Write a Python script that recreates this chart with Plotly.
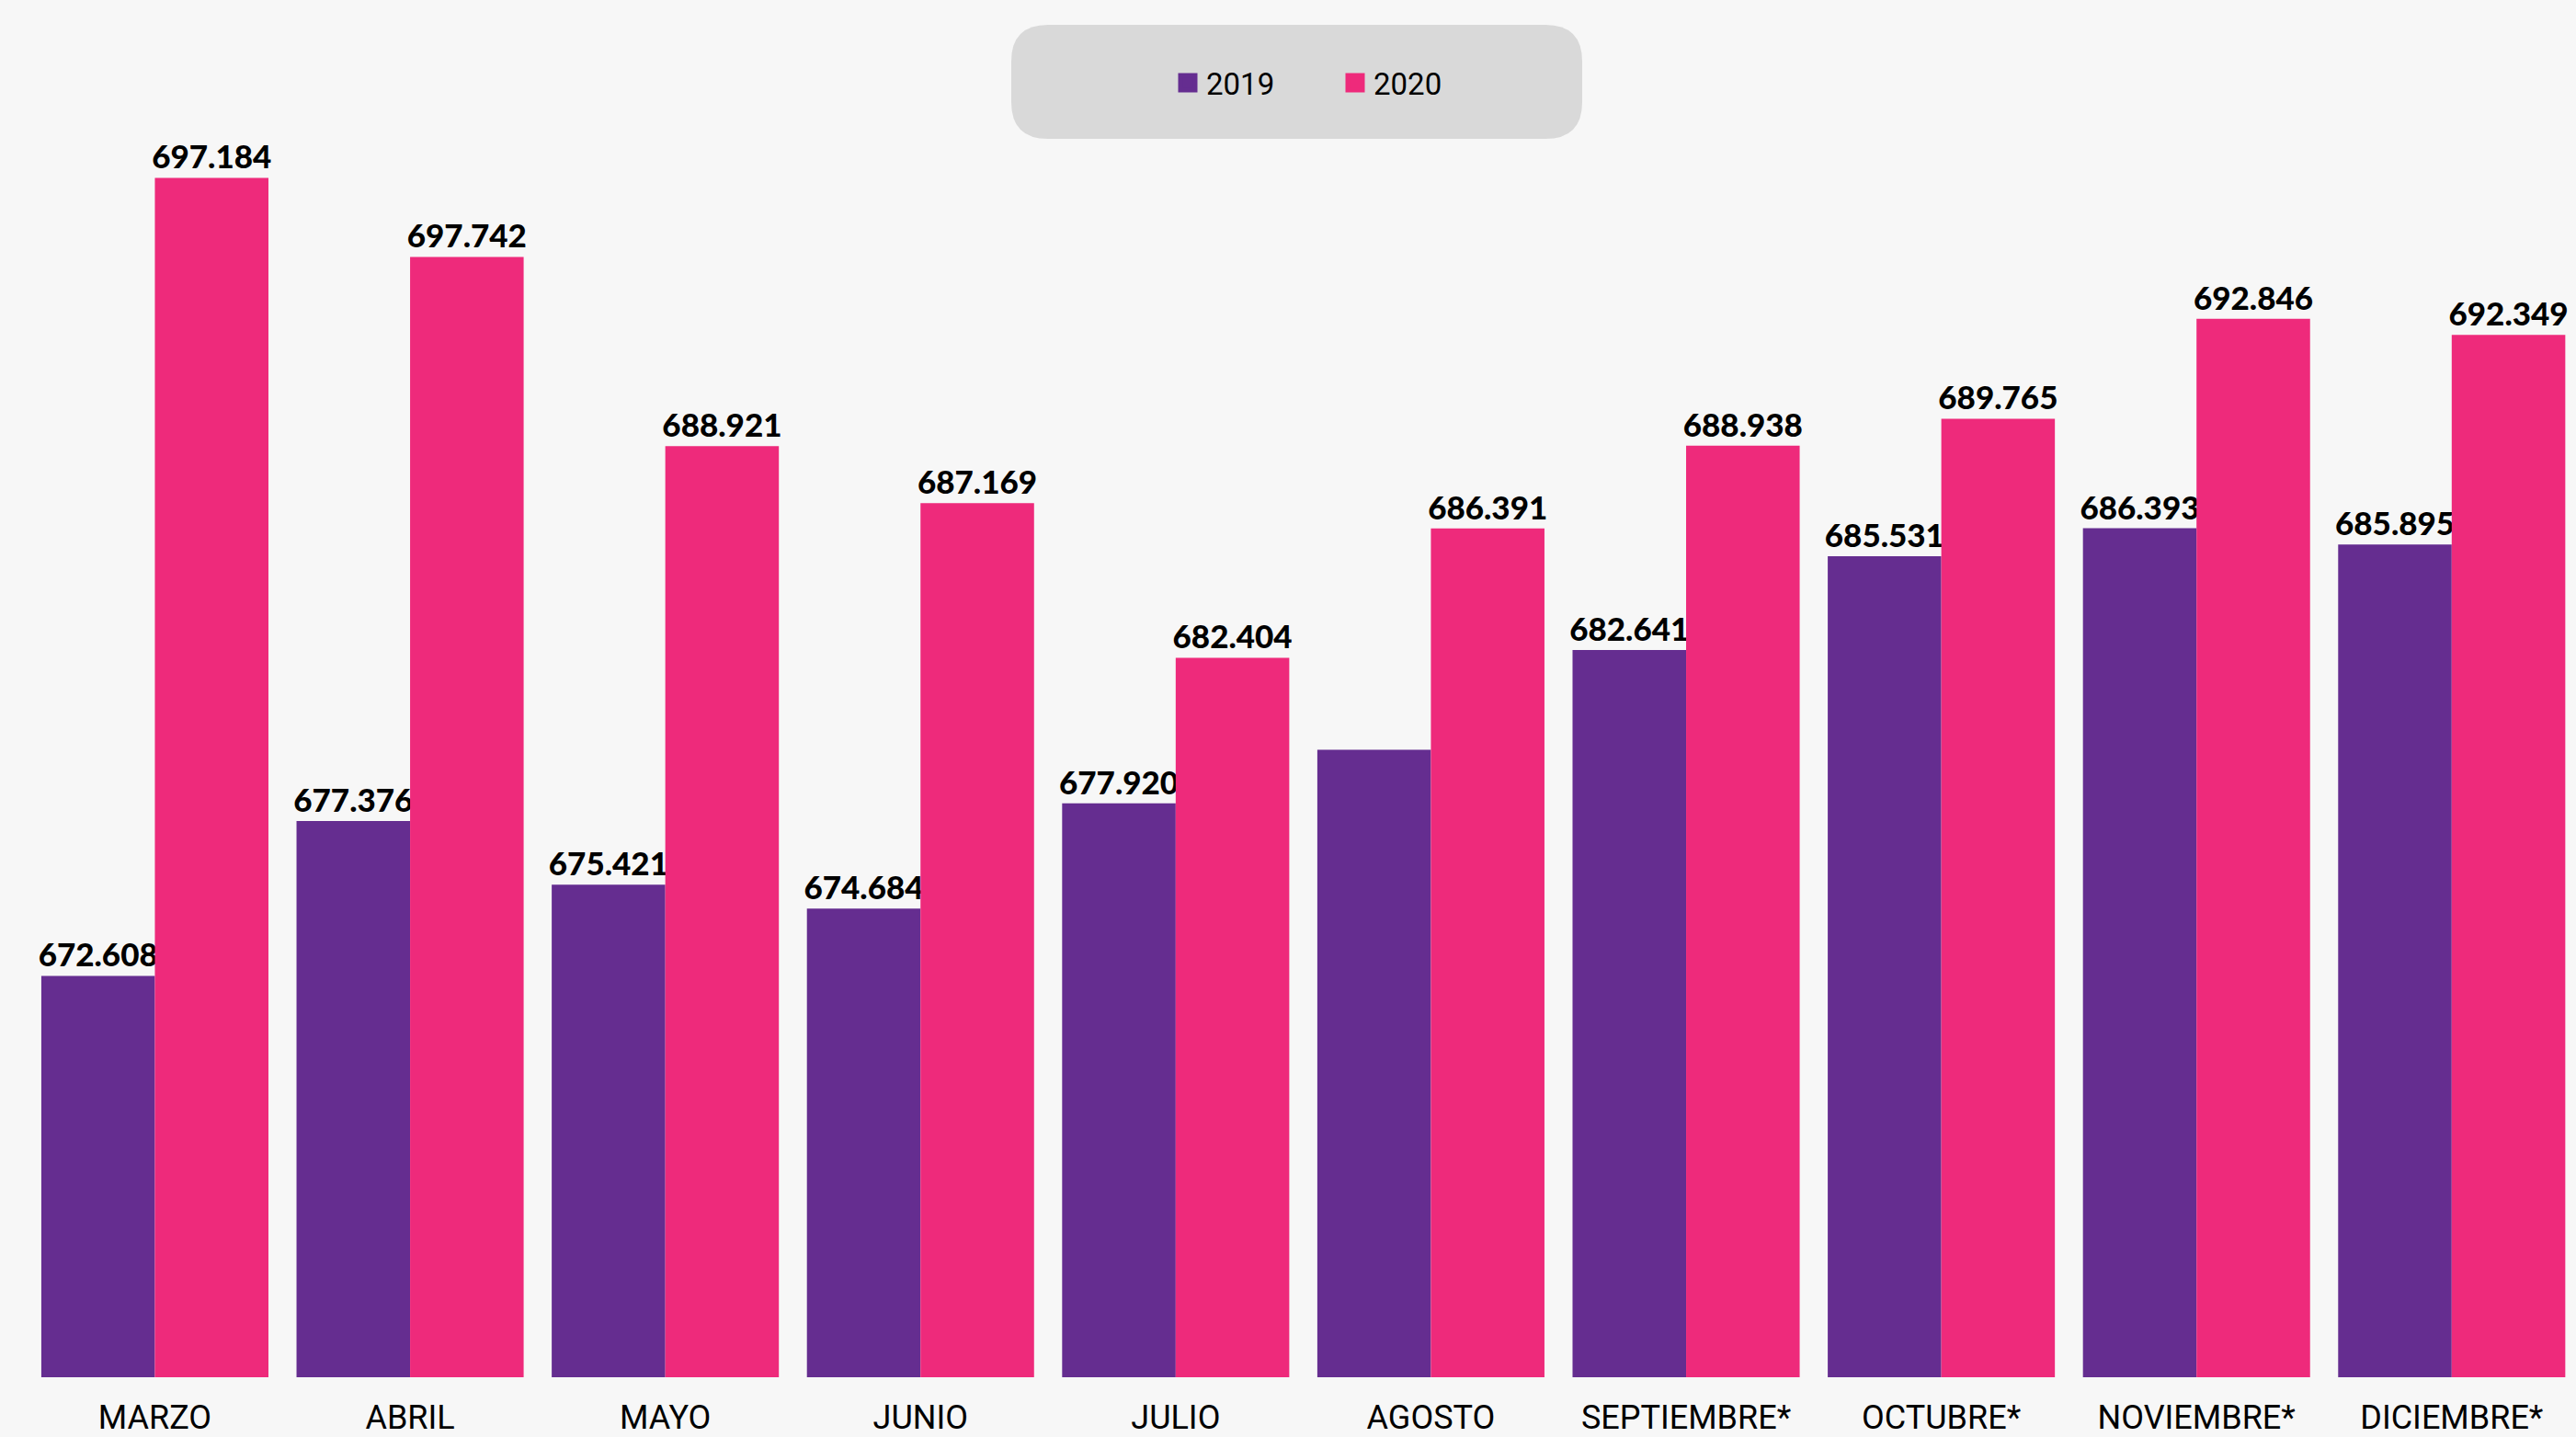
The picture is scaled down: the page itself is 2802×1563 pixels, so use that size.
import plotly.graph_objects as go

# ---- data ----
months = ["MARZO", "ABRIL", "MAYO", "JUNIO", "JULIO", "AGOSTO",
          "SEPTIEMBRE*", "OCTUBRE*", "NOVIEMBRE*", "DICIEMBRE*"]
values_2019 = [672.608, 677.376, 675.421, 674.684, 677.920, 679.57,
               682.641, 685.531, 686.393, 685.895]
values_2020 = [697.184, 694.75, 688.921, 687.169, 682.404, 686.391,
               688.938, 689.765, 692.846, 692.349]
labels_2019 = ["672.608", "677.376", "675.421", "674.684", "677.920", "",
               "682.641", "685.531", "686.393", "685.895"]
labels_2020 = ["697.184", "697.742", "688.921", "687.169", "682.404", "686.391",
               "688.938", "689.765", "692.846", "692.349"]
series_names = ["2019", "2020"]

# ---- style ----
W, H = 2802, 1563
ML, MR, MT, MB = 28, 0, 0, 65
PURPLE = "#652D90"
PINK = "#EE2A7B"
BG = "#F7F7F7"
LEGEND_BG = "#D9D9D9"
COND_FONT = "Liberation Sans Narrow, Roboto, Liberation Sans, sans-serif"
VAL_FONT = "Lato, Roboto, sans-serif"

pw = W - ML - MR
ph = H - MT - MB


def px_x(x):
    return (x - ML) / pw


def px_y(y):
    return (H - MB - y) / ph


fig = go.Figure()
for name, vals, labs, col in [(series_names[0], values_2019, labels_2019, PURPLE),
                              (series_names[1], values_2020, labels_2020, PINK)]:
    fig.add_trace(go.Bar(
        x=months, y=vals, name=name, marker=dict(color=col, line=dict(width=0)),
        text=labs, texttemplate="%{text}", textposition="outside",
        textfont=dict(family=VAL_FONT, size=35, color="#000000", weight=900),
        constraintext="none", cliponaxis=False, showlegend=False,
    ))
    # legend entry with a larger square swatch
    fig.add_trace(go.Scatter(
        x=[None], y=[None], mode="markers", name=name,
        marker=dict(symbol="square", size=16, color=col, line=dict(color=col, width=5)),
        showlegend=True, hoverinfo="skip",
    ))

# rounded legend box
x0, x1 = 1100, 1721
y0, y1 = 27, 151
r = 40
path = (
    f"M {px_x(x0 + r)} {px_y(y0)} L {px_x(x1 - r)} {px_y(y0)} "
    f"Q {px_x(x1)} {px_y(y0)} {px_x(x1)} {px_y(y0 + r)} "
    f"L {px_x(x1)} {px_y(y1 - r)} "
    f"Q {px_x(x1)} {px_y(y1)} {px_x(x1 - r)} {px_y(y1)} "
    f"L {px_x(x0 + r)} {px_y(y1)} "
    f"Q {px_x(x0)} {px_y(y1)} {px_x(x0)} {px_y(y1 - r)} "
    f"L {px_x(x0)} {px_y(y0 + r)} "
    f"Q {px_x(x0)} {px_y(y0)} {px_x(x0 + r)} {px_y(y0)} Z"
)
fig.add_shape(type="path", path=path, xref="paper", yref="paper",
              fillcolor=LEGEND_BG, line=dict(width=0), layer="above")

fig.update_layout(
    width=W, height=H, autosize=False,
    margin=dict(l=ML, r=MR, t=MT, b=MB, pad=0),
    paper_bgcolor=BG, plot_bgcolor=BG,
    barmode="group", bargap=0.11, bargroupgap=0,
    showlegend=True,
    legend=dict(orientation="h", x=px_x(1272), xanchor="left",
                y=px_y(90), yanchor="middle",
                bgcolor="rgba(0,0,0,0)", borderwidth=0,
                font=dict(family=COND_FONT, size=33, color="#000000"),
                entrywidth=137, entrywidthmode="pixels"),
    xaxis=dict(showgrid=False, zeroline=False, showline=False,
               range=[-0.506, 9.487],
               ticks="outside", ticklen=12, tickcolor=BG,
               tickfont=dict(family=COND_FONT, size=36, color="#000000"),
               fixedrange=True),
    yaxis=dict(visible=False, range=[660.25, 702.66], showgrid=False,
               zeroline=False, fixedrange=True),
)

fig.write_html(
    "out.html",
    config={"displayModeBar": False, "staticPlot": False},
    post_script="document.body.style.margin='0';document.body.style.padding='0';"
                "document.documentElement.style.overflow='hidden';",
)
